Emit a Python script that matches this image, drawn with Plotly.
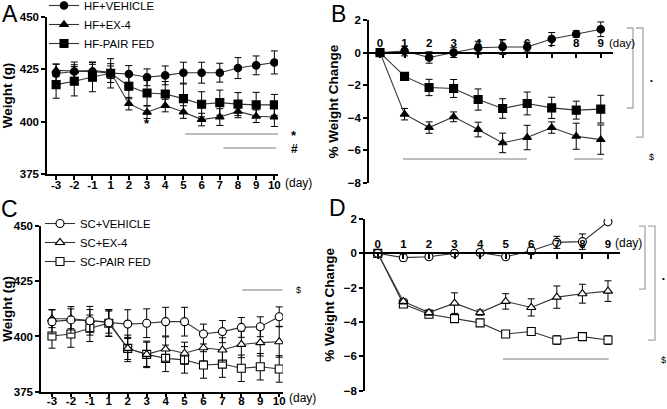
import plotly.graph_objects as go

W, H = 667, 409

# ---------------- data ----------------
days_ac = ['-3', '-2', '-1', '1', '2', '3', '4', '5', '6', '7', '8', '9', '10']
days_bd = ['0', '1', '2', '3', '4', '5', '6', '7', '8', '9']

# Panel A: HF weights (g)
hf_vehicle = [423.0, 424.0, 424.0, 423.2, 422.8, 421.2, 422.1, 423.4, 423.4, 423.4, 425.6, 426.9, 428.3]
hf_vehicle_err = [4.5, 4.5, 4.5, 4.5, 4.0, 4.0, 4.5, 5.0, 5.0, 4.5, 5.0, 4.5, 5.5]
hf_ex4 = [424.5, 424.2, 424.4, 423.6, 408.6, 404.5, 407.7, 404.6, 401.0, 402.2, 404.9, 402.6, 402.2]
hf_ex4_err = [3.0, 3.0, 3.0, 3.0, 3.0, 3.0, 3.0, 3.0, 3.0, 4.0, 3.0, 3.0, 4.5]
hf_pf = [417.7, 419.3, 421.3, 423.1, 416.9, 413.7, 413.2, 411.0, 408.3, 409.1, 408.4, 408.0, 408.0]
hf_pf_err = [6.5, 7.0, 7.0, 7.0, 6.0, 6.0, 6.0, 7.0, 6.0, 6.0, 5.5, 6.0, 5.0]

# Panel B: HF % weight change
hf_vehicle_pct = [0, 0.1, -0.3, 0.0, 0.3, 0.34, 0.34, 0.83, 1.14, 1.43]
hf_vehicle_pct_err = [0, 0.3, 0.35, 0.3, 0.4, 0.45, 0.3, 0.4, 0.2, 0.45]
hf_ex4_pct = [0, -3.78, -4.6, -3.94, -4.72, -5.54, -5.21, -4.6, -5.13, -5.34]
hf_ex4_pct_err = [0, 0.35, 0.35, 0.3, 0.45, 0.6, 0.75, 0.35, 0.8, 0.9]
hf_pf_pct = [0, -1.46, -2.14, -2.2, -2.88, -3.43, -3.12, -3.39, -3.53, -3.47]
hf_pf_pct_err = [0, 0.1, 0.5, 0.55, 0.65, 0.6, 0.7, 0.65, 0.55, 0.85]

# Panel C: SC weights (g)
sc_vehicle = [406.7, 407.5, 407.1, 406.2, 405.6, 406.0, 406.7, 406.7, 401.1, 402.2, 404.1, 404.4, 408.9]
sc_vehicle_err = [5.5, 6.0, 6.5, 6.0, 6.5, 6.5, 6.5, 6.5, 4.5, 5.0, 4.5, 4.5, 4.5]
sc_ex4 = [408.0, 408.0, 407.2, 406.5, 394.6, 391.9, 394.3, 392.4, 394.9, 393.9, 396.4, 397.2, 397.6]
sc_ex4_err = [4.0, 4.5, 5.0, 5.0, 5.0, 5.5, 5.5, 5.0, 6.0, 5.5, 6.0, 6.0, 7.0]
sc_pf = [400.2, 401.1, 403.7, 406.0, 394.6, 391.9, 390.1, 389.4, 387.1, 387.5, 385.6, 386.3, 385.3]
sc_pf_err = [5.5, 6.0, 6.0, 6.0, 6.0, 6.0, 6.0, 6.0, 6.0, 6.0, 6.0, 6.0, 6.0]

# Panel D: SC % weight change
sc_vehicle_pct = [0, -0.25, -0.2, 0.0, 0.05, -0.2, 0.15, 0.64, 0.68, 1.84]
sc_vehicle_pct_err = [0, 0.2, 0.1, 0.15, 0.15, 0.15, 0.2, 0.35, 0.45, 0.1]
sc_ex4_pct = [0, -2.8, -3.45, -2.9, -3.45, -2.8, -3.15, -2.55, -2.35, -2.2]
sc_ex4_pct_err = [0, 0.15, 0.15, 0.6, 0.15, 0.45, 0.5, 0.65, 0.55, 0.6]
sc_pf_pct = [0, -2.95, -3.55, -3.8, -4.05, -4.7, -4.55, -5.05, -4.85, -5.05]
sc_pf_pct_err = [0, 0.15, 0.2, 0.2, 0.15, 0.1, 0.15, 0.25, 0.2, 0.25]

# significance lines: (x0 index, x1 index, y value)
sig_a = [(7.1, 12.2, 394.1), (9.2, 12.1, 387.4)]
sig_b = [(0.94, 5.99, -6.53), (7.91, 9.09, -6.53)]
sig_c = [(10.05, 12.17, 421.0)]
sig_d = [(4.89, 9.03, -6.15)]
# brackets: (y top, y bottom) values
brk_b = [(1.51, -3.4), (1.51, -5.18)]
brk_d = [(1.59, -2.08), (1.59, -5.05)]

FONT = 'Liberation Sans, Arial, sans-serif'
LINE = '#333333'

fig = go.Figure()


def add(x, y, err, name, symbol, filled, xa, ya, legend, size=7.5, show=True):
    fig.add_trace(go.Scatter(
        x=x, y=y, name=name, mode='lines+markers',
        xaxis=xa, yaxis=ya, legend=legend, showlegend=show,
        line=dict(color=LINE, width=1.1),
        marker=dict(symbol=symbol, size=size,
                    color='black' if filled else 'white',
                    line=dict(color='black', width=1.1)),
        error_y=dict(type='data', array=err, visible=True, color='black',
                     thickness=1, width=3.5),
    ))


xi_ac = list(range(len(days_ac)))
xi_bd = list(range(len(days_bd)))

# Panel A
add(xi_ac, hf_pf, hf_pf_err, 'HF-PAIR FED', 'square', True, 'x', 'y', 'legend', 8, True)
add(xi_ac, hf_ex4, hf_ex4_err, 'HF+EX-4', 'triangle-up', True, 'x', 'y', 'legend', 7.5, True)
add(xi_ac, hf_vehicle, hf_vehicle_err, 'HF+VEHICLE', 'circle', True, 'x', 'y', 'legend', 7.5, True)
# Panel B
add(xi_bd, hf_pf_pct, hf_pf_pct_err, 'HF-PAIR FED', 'square', True, 'x2', 'y2', 'legend', 8, False)
add(xi_bd, hf_ex4_pct, hf_ex4_pct_err, 'HF+EX-4', 'triangle-up', True, 'x2', 'y2', 'legend', 7.5, False)
add(xi_bd, hf_vehicle_pct, hf_vehicle_pct_err, 'HF+VEHICLE', 'circle', True, 'x2', 'y2', 'legend', 7.5, False)
# Panel C
add(xi_ac, sc_pf, sc_pf_err, 'SC-PAIR FED', 'square', False, 'x3', 'y3', 'legend2', 8, True)
add(xi_ac, sc_ex4, sc_ex4_err, 'SC+EX-4', 'triangle-up', False, 'x3', 'y3', 'legend2', 8, True)
add(xi_ac, sc_vehicle, sc_vehicle_err, 'SC+VEHICLE', 'circle', False, 'x3', 'y3', 'legend2', 8, True)
# Panel D
add(xi_bd, sc_pf_pct, sc_pf_pct_err, 'SC-PAIR FED', 'square', False, 'x4', 'y4', 'legend2', 8, False)
add(xi_bd, sc_ex4_pct, sc_ex4_pct_err, 'SC+EX-4', 'triangle-up', False, 'x4', 'y4', 'legend2', 8, False)
add(xi_bd, sc_vehicle_pct, sc_vehicle_pct_err, 'SC+VEHICLE', 'circle', False, 'x4', 'y4', 'legend2', 8, False)


def px(v):
    return v / W


def py(v):
    return 1 - v / H


tickfont = dict(family=FONT, size=11.5, color='black', weight='bold')
titlefont = dict(family=FONT, size=13.5, color='black', weight='bold')

common_y = dict(showgrid=False, zeroline=False, showline=True, linecolor='black',
                linewidth=1.5, ticks='outside', ticklen=4, tickwidth=1.5,
                tickcolor='black', tickfont=tickfont, title_font=titlefont,
                automargin=False)
common_x = dict(showgrid=False, zeroline=False, showline=True, linecolor='black',
                linewidth=1.5, tickwidth=1.5, tickcolor='black', tickfont=tickfont,
                automargin=False)

zero_b = py(183) + (py(20) - py(183)) * 0.8
zero_d = py(390.7) + (py(219) - py(390.7)) * 0.8

fig.update_layout(
    template='none',
    width=W, height=H, margin=dict(l=0, r=0, t=0, b=0, autoexpand=False),
    paper_bgcolor='white', plot_bgcolor='white',
    font=dict(family=FONT, color='black'),
    # Panel A
    xaxis=dict(common_x, domain=[px(47), px(278)], range=[-0.5, 12.2],
               tickvals=xi_ac, ticktext=days_ac, ticks='outside', ticklen=4,
               ticklabelstandoff=-5, anchor='y'),
    yaxis=dict(common_y, domain=[py(174), py(17)], range=[375, 450], dtick=25,
               anchor='x', title=dict(text='Weight (g)', standoff=6)),
    # Panel B
    xaxis2=dict(common_x, domain=[px(369), px(613)], range=[-0.45, 9.5],
                tickvals=xi_bd, ticktext=days_bd, side='top', ticks='inside',
                ticklen=5, anchor='free', position=zero_b),
    yaxis2=dict(common_y, domain=[py(183), py(20)], range=[-8, 2], dtick=2,
                anchor='x2', title=dict(text='% Weight Change', standoff=6)),
    # Panel C
    xaxis3=dict(common_x, domain=[px(41), px(283)], range=[-0.58, 12.2],
                tickvals=xi_ac, ticktext=days_ac, ticks='outside', ticklen=4,
                ticklabelstandoff=-6, anchor='y3'),
    yaxis3=dict(common_y, domain=[py(391.7), py(226)], range=[375, 450], dtick=25,
                anchor='x3', title=dict(text='Weight (g)', standoff=6)),
    # Panel D
    xaxis4=dict(common_x, domain=[px(365), px(620)], range=[-0.5, 9.47],
                tickvals=xi_bd, ticktext=days_bd, side='top', ticks='inside',
                ticklen=5, anchor='free', position=zero_d),
    yaxis4=dict(common_y, domain=[py(390.7), py(219)], range=[-8, 2], dtick=2,
                anchor='x4', title=dict(text='% Weight Change', standoff=6)),
    legend=dict(x=px(44), y=py(-9), xanchor='left', yanchor='top',
                font=dict(family=FONT, size=11.3, color='black'),
                bgcolor='rgba(0,0,0,0)', traceorder='reversed',
                itemwidth=30, tracegroupgap=0, borderwidth=0),
    legend2=dict(x=px(40), y=py(209), xanchor='left', yanchor='top',
                 font=dict(family=FONT, size=11.3, color='black'),
                 bgcolor='rgba(0,0,0,0)', traceorder='reversed',
                 itemwidth=30, tracegroupgap=0, borderwidth=0),
)

# significance lines
GRAY = '#a8a8a8'
for ref, lines in (('', sig_a), ('2', sig_b), ('3', sig_c), ('4', sig_d)):
    for (x0, x1, yv) in lines:
        fig.add_shape(type='line', xref='x' + ref, yref='y' + ref,
                      x0=x0, x1=x1, y0=yv, y1=yv,
                      line=dict(color=GRAY, width=1.5))


def bracket(yref, top, bot, xv, xl):
    path = (f'M {px(xl)},{top} L {px(xv)},{top} L {px(xv)},{bot} L {px(xl)},{bot}')
    fig.add_shape(type='path', xref='paper', yref=yref, path=path,
                  line=dict(color=GRAY, width=1.3))


bracket('y2', brk_b[0][0], brk_b[0][1], 633, 627)
bracket('y2', brk_b[1][0], brk_b[1][1], 643, 636)
bracket('y4', brk_d[0][0], brk_d[0][1], 645, 639)
bracket('y4', brk_d[1][0], brk_d[1][1], 655, 648)


def txt(x, y, s, size, bold=False, xanchor='center', xref='paper', yref='paper'):
    fig.add_annotation(x=x, y=y, xref=xref, yref=yref, text=s, showarrow=False,
                       xanchor=xanchor, yanchor='middle',
                       font=dict(family=FONT, size=size, color='black',
                                 weight='bold' if bold else 'normal'))


# panel letters
txt(px(10), py(14), 'A', 23)
txt(px(338), py(14), 'B', 23)
txt(px(9), py(209), 'C', 23)
txt(px(337), py(208), 'D', 23)

# (day) labels
txt(px(283), py(183), '(day)', 12, xanchor='left')
txt(px(607), py(43), '(day)', 11.5, xanchor='left')
txt(px(287), py(398), '(day)', 12, xanchor='left')
txt(px(613), py(243), '(day)', 12, xanchor='left')

# significance symbols
txt(5, 398.9, '*', 13, True, xref='x', yref='y')
txt(px(294), py(135), '*', 13, True)
txt(px(294), py(149), '#', 12, True)
txt(px(651), py(80), '•', 8)
txt(px(651), py(157), '$', 9)
txt(px(298), py(290), '$', 9)
txt(px(663), py(278), '•', 8)
txt(px(663), py(360), '$', 9)

fig.write_html('out.html', config={'displayModeBar': False},
               post_script="document.body.style.margin='0px';"
                           "document.body.style.overflow='hidden';")
